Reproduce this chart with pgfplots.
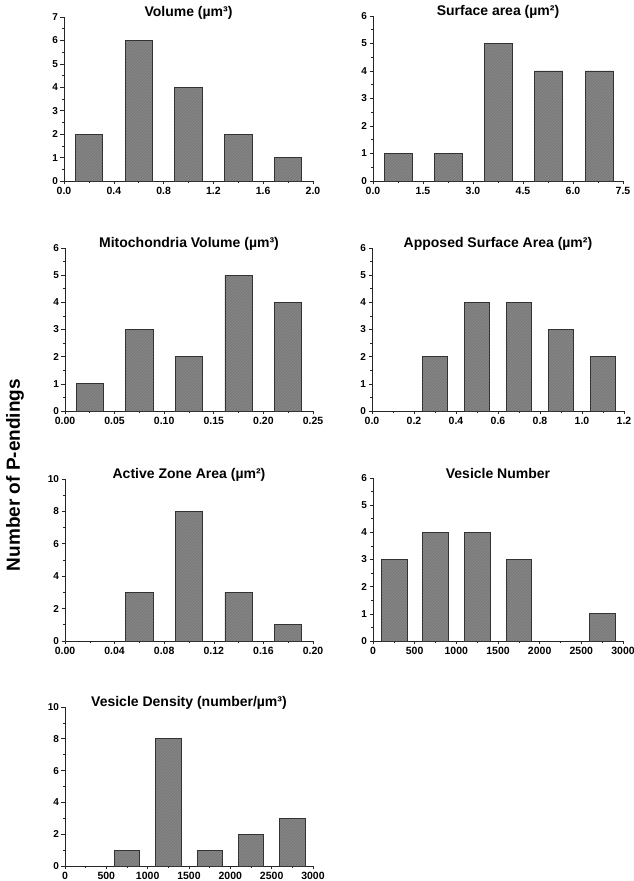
\documentclass[border=0pt]{standalone}
\usepackage{fontspec}
\setmainfont{Liberation Sans}
\usepackage{pgfplots}
\pgfplotsset{compat=1.18}
\usetikzlibrary{patterns}
\definecolor{barfill}{HTML}{7A7A7A}
\pgfplotsset{hist/.style={
  scale only axis, anchor=south west,
  axis lines=left, axis line style={-, line width=0.8pt, black!85},
  hide obscured x ticks=false, hide obscured y ticks=false,
  tick align=outside, ymin=0, xmin=0, enlargelimits=false,
  ybar, bar shift=0pt,
  minor x tick num=1, minor y tick num=1,
  tick style={black!85, line width=0.6pt},
  major tick length=3.5pt, minor tick length=2pt,
  /pgf/number format/assume math mode=true,
  /pgf/number format/1000 sep={},
  scaled ticks=false,
  tick label style={font=\fontsize{10}{12}\selectfont\bfseries},
  xticklabel style={yshift=1pt, font=\fontsize{10.5}{12}\selectfont\bfseries},
  yticklabel style={xshift=1pt},
  title style={at={(0.5,1)}, anchor=center, yshift=-1.5pt, font=\fontsize{14}{16}\selectfont\bfseries},
  clip=false,
}}
\tikzset{bars/.style={fill=barfill, draw=black!80, line width=0.7pt,
  postaction={pattern=north east lines, pattern color=black!45}}}
\begin{document}
\begin{tikzpicture}
\path[use as bounding box] (0pt,0pt) rectangle (633pt,881pt);
% Panel 1
\begin{axis}[hist, at={(64pt,700pt)}, width=249pt, height=164pt,
  xmax=2, ymax=7, title={Volume (µm³)},
  xtick={0,0.4,0.8,1.2,1.6,2.0}, ytick={0,1,...,7},
  xticklabel style={/pgf/number format/.cd, fixed, fixed zerofill, precision=1},
  bar width=0.22]
\addplot[bars] coordinates {(0.2,2) (0.6,6) (1.0,4) (1.4,2) (1.8,1)};
\end{axis}
% Panel 2
\begin{axis}[hist, at={(373pt,700pt)}, width=250pt, height=165pt,
  xmax=7.5, ymax=6, title={Surface area (µm²)},
  xtick={0,1.5,3,4.5,6,7.5}, xticklabels={0.0,1.5,3.0,4.5,6.0,7.5},
  ytick={0,1,...,6},
  bar width=0.84]
\addplot[bars] coordinates {(0.77,1) (2.27,1) (3.77,5) (5.27,4) (6.78,4)};
\end{axis}
% Panel 3
\begin{axis}[hist, at={(65pt,470pt)}, width=248pt, height=163pt,
  xmax=0.25, ymax=6, title={Mitochondria Volume (µm³)},
  xtick={0,0.05,0.10,0.15,0.20,0.25}, ytick={0,1,...,6},
  xticklabel style={/pgf/number format/.cd, fixed, fixed zerofill, precision=2},
  bar width=0.0275]
\addplot[bars] coordinates {(0.025,1) (0.075,3) (0.125,2) (0.175,5) (0.225,4)};
\end{axis}
% Panel 4
\begin{axis}[hist, at={(372pt,470pt)}, width=252pt, height=163pt,
  xmax=1.2, ymax=6, title={Apposed Surface Area (µm²)},
  xtick={0,0.2,0.4,0.6,0.8,1.0,1.2}, ytick={0,1,...,6},
  xticklabel style={/pgf/number format/.cd, fixed, fixed zerofill, precision=1},
  bar width=0.12]
\addplot[bars] coordinates {(0.3,2) (0.5,4) (0.7,4) (0.9,3) (1.1,2)};
\end{axis}
% Panel 5
\begin{axis}[hist, at={(65pt,240pt)}, width=248pt, height=162pt,
  xmax=0.2, ymax=10, title={Active Zone Area (µm²)},
  xtick={0,0.04,0.08,0.12,0.16,0.20}, ytick={0,2,...,10},
  xticklabel style={/pgf/number format/.cd, fixed, fixed zerofill, precision=2},
  bar width=0.022]
\addplot[bars] coordinates {(0.06,3) (0.10,8) (0.14,3) (0.18,1)};
\end{axis}
% Panel 6
\begin{axis}[hist, at={(373pt,240pt)}, width=250pt, height=163pt,
  xmax=3000, ymax=6, title={Vesicle Number},
  xtick={0,500,...,3000}, ytick={0,1,...,6},
  bar width=305]
\addplot[bars] coordinates {(255,3) (750,4) (1250,4) (1750,3) (2750,1)};
\end{axis}
% Panel 7
\begin{axis}[hist, at={(65pt,15pt)}, width=248pt, height=159pt,
  xmax=3000, ymax=10, title={Vesicle Density (number/µm³)},
  xtick={0,500,...,3000}, ytick={0,2,...,10},
  bar width=305]
\addplot[bars] coordinates {(750,1) (1250,8) (1750,1) (2250,2) (2750,3)};
\end{axis}
\node[rotate=90, font=\fontsize{19}{22}\selectfont\bfseries] at (15pt,406pt) {Number of P-endings};
\end{tikzpicture}
\end{document}
